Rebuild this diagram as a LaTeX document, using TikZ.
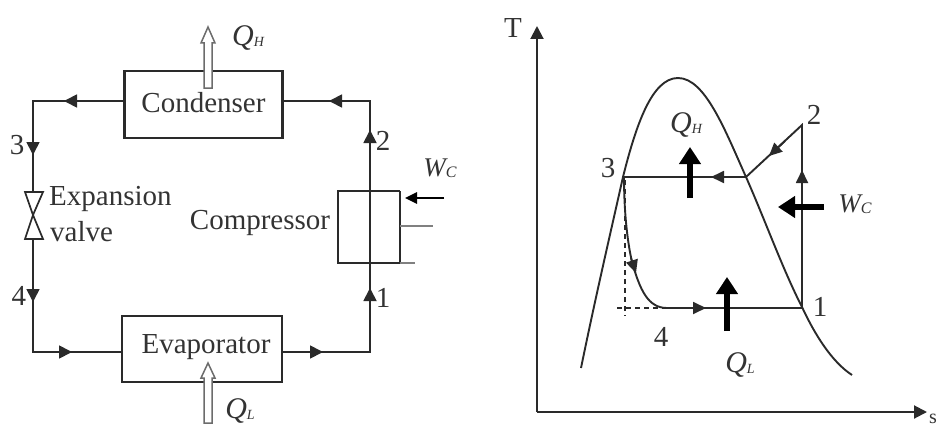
\documentclass[tikz,border=0pt]{standalone}
\usepackage{fontspec}
\setmainfont{Liberation Serif}
\usetikzlibrary{arrows.meta}
\definecolor{ink}{HTML}{2A2A2A}
\definecolor{txt}{HTML}{333333}
\newcommand{\QQ}[1]{{\fontsize{30}{30}\selectfont\itshape Q\raisebox{-1pt}{\fontsize{14}{14}\selectfont #1}}}
\newcommand{\WW}{{\fontsize{27}{27}\selectfont\itshape W\raisebox{-1pt}{\fontsize{16}{16}\selectfont C}}}
\tikzset{
  pipe/.style={draw=ink,line width=1.8pt},
  flow/.style={pipe,-{Triangle[length=13pt,width=13pt]}},
  box/.style={draw=ink,line width=2.1pt,fill=white,inner sep=0pt},
  label/.style={text=txt,inner sep=0pt,font=\fontsize{29}{29}\selectfont},
  hollow/.style={draw=gray!85!black,line width=1.5pt,fill=white,line join=miter},
  thick arrow/.style={draw=black,line width=6pt,-{Triangle[length=17pt,width=21pt]}},
  thin tip/.style={draw=ink,line width=1.8pt,-{Triangle[length=13pt,width=12pt]}},
  curve/.style={draw=ink,line width=1.9pt},
  dash line/.style={draw=ink,line width=1.1pt,dash pattern=on 5pt off 4pt}
}
\begin{document}
\begin{tikzpicture}[x=1pt,y=-1pt]
\useasboundingbox (0,0) rectangle (937,428);
% ---------- cycle diagram ----------
\node[box,minimum width=158pt,minimum height=67pt] (cond) at (203.5,104.5) {};
\node[label] (condt) at (203.5,103) {Condenser};
\node[box,minimum width=160pt,minimum height=66pt] (evap) at (202,349) {};
\node[label] (evapt) at (206,347) {Evaporator};
\coordinate (cw) at (125,101);
\coordinate (ce) at (282,101);
\coordinate (ew) at (122,352);
\coordinate (ee) at (282,352);
\coordinate (tl) at (33,101);
\coordinate (bl) at (33,352);
\coordinate (tr) at (370,101);
\coordinate (br) at (370,352);
\coordinate (vt) at (33,192);
\coordinate (vm) at (33,215);
\coordinate (vb) at (33,239);
\coordinate (a1) at (64,101);
\coordinate (a2) at (33,155);
\coordinate (a3) at (33,302);
\coordinate (a4) at (72,352);
\coordinate (a5) at (323,352);
\coordinate (a6) at (370,288);
\coordinate (a7) at (370,130);
\coordinate (a8) at (329,101);
\draw[pipe] (cw) -- (tl) -- (vt);
\draw[flow] (cw) -- (a1);
\draw[flow] (tl) -- (a2);
\draw[pipe] (vb) -- (bl) -- (ew);
\draw[flow] (vb) -- (a3);
\draw[flow] (bl) -- (a4);
\draw[pipe] (ee) -- (br) -- (tr) -- (ce);
\draw[flow] (ee) -- (a5);
\draw[flow] (br) -- (a6);
\draw[flow] (a6) -- (a7);
\draw[flow] (tr) -- (a8);
% valve
\draw[draw=ink,line width=1.7pt,fill=white,line join=miter] (25,192) -- (43,192) -- (vm) -- cycle;
\draw[draw=ink,line width=1.7pt,fill=white,line join=miter] (25,239) -- (43,239) -- (vm) -- cycle;
% compressor
\coordinate (cpa) at (338,191);
\coordinate (cpb) at (400,191);
\coordinate (cpc) at (400,263);
\coordinate (cpd) at (338,263);
\coordinate (cpe) at (415,263);
\coordinate (pis) at (400,226);
\coordinate (pie) at (433,226);
\coordinate (wa) at (444,198);
\coordinate (wb) at (405,198);
\draw[draw=ink,line width=1.6pt] (cpb) -- (cpa) -- (cpd) -- (cpc);
\draw[draw=ink,line width=1.6pt] (cpb) -- (cpc);
\draw[draw=gray,line width=1.3pt] (cpc) -- (cpe);
\draw[draw=gray,line width=1.3pt] (pis) -- (pie);
\draw[draw=black,line width=2.6pt,-{Triangle[length=12pt,width=11pt]}] (wa) -- (wb);
% hollow arrows
\draw[hollow] (204,88) -- (204,43) -- (201,43) -- (208,27) -- (215,43) -- (212,43) -- (212,88) -- cycle;
\draw[hollow] (204,423) -- (204,378) -- (201,378) -- (208,363) -- (215,378) -- (212,378) -- (212,423) -- cycle;
% labels
\node[label] (l3a) at (17,145) {3};
\node[label] (l4a) at (19,296) {4};
\node[label] (l2a) at (383,141) {2};
\node[label] (l1a) at (383,298) {1};
\node[label,anchor=west] (exp) at (49,199) {Expansion};
\node[label,anchor=west] (val) at (50,232) {valve};
\node[label] (comp) at (260,223) {Compressor};
\node[text=txt,inner sep=0pt] (qh) at (248,38) {\QQ{H}};
\node[text=txt,inner sep=0pt] (ql) at (240,411) {\QQ{L}};
\node[text=txt,inner sep=0pt] (wc) at (440,168) {\WW};
% ---------- T-s diagram ----------
\coordinate (o) at (537,412);
\coordinate (ty) at (537,26);
\coordinate (sx) at (927,412);
\draw[draw=ink,line width=2pt,-{Triangle[length=13pt,width=13pt]}] (o) -- (ty);
\draw[draw=ink,line width=2pt,-{Triangle[length=13pt,width=13pt]}] (o) -- (sx);
\node[label] (tt) at (513,28) {T};
\node[text=txt,inner sep=0pt,anchor=east,font=\fontsize{20}{20}\selectfont] (ss) at (937,419) {s};
\coordinate (p1) at (802,308);
\coordinate (p2) at (802,125);
\coordinate (p3) at (624,177);
\coordinate (p3r) at (746,177);
\coordinate (p4) at (667,308);
\draw[curve] (581,368) .. controls (596,295) and (610,235) .. (623,177)
  .. controls (636,125) and (652,78) .. (678,78)
  .. controls (705,78) and (725,130) .. (746,177)
  .. controls (765,220) and (783,270) .. (802,307)
  .. controls (815,335) and (832,362) .. (852,375);
\draw[curve] (p3) -- (p3r) -- (p2) -- (p1) -- (p4)
  .. controls (648,308) and (640,290) .. (632,262)
  .. controls (627,240) and (624,210) .. (p3);
\draw[dash line] (625,180) -- (625,316);
\draw[dash line] (617,308) -- (667,308);
% cycle tips
\coordinate (t1s) at (725,177); \coordinate (t1) at (711,177);
\coordinate (t2s) at (785,141); \coordinate (t2) at (769,156);
\coordinate (t3s) at (802,185); \coordinate (t3) at (802,170);
\coordinate (t4s) at (690,308); \coordinate (t4) at (706,308);
\coordinate (t5s) at (631,258); \coordinate (t5) at (636,273);
\draw[thin tip] (t1s) -- (t1);
\draw[thin tip] (t2s) -- (t2);
\draw[thin tip] (t3s) -- (t3);
\draw[thin tip] (t4s) -- (t4);
\draw[thin tip] (t5s) -- (t5);
% thick arrows
\coordinate (h1s) at (690,198); \coordinate (h1) at (690,147);
\coordinate (h2s) at (727,331); \coordinate (h2) at (727,277);
\coordinate (h3s) at (824,207); \coordinate (h3) at (778,207);
\draw[thick arrow] (h1s) -- (h1);
\draw[thick arrow] (h2s) -- (h2);
\draw[thick arrow] (h3s) -- (h3);
% labels
\node[label] (r3) at (608,168) {3};
\node[label] (r2) at (814,115) {2};
\node[label] (r1) at (820,307) {1};
\node[label] (r4) at (661,337) {4};
\node[text=txt,inner sep=0pt] (rqh) at (686,125) {\QQ{H}};
\node[text=txt,inner sep=0pt] (rql) at (740,365) {\QQ{L}};
\node[text=txt,inner sep=0pt] (rwc) at (855,204) {\WW};
\end{tikzpicture}
\end{document}
